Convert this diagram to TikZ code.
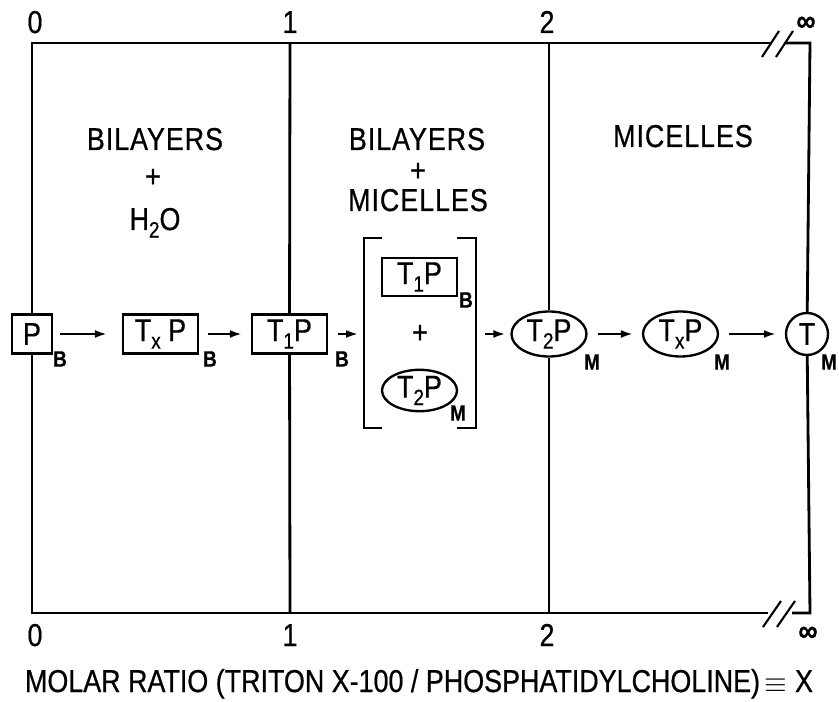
\documentclass[tikz,border=0pt]{standalone}
\usepackage{fontspec}
\setmainfont{Liberation Sans}[FakeStretch=0.85,FakeBold=0.6]
\usetikzlibrary{shapes.geometric,arrows.meta}
\newcommand\sub[1]{\raisebox{-0.45ex}{\fontsize{19}{19}\selectfont #1}}

\begin{document}
\begin{tikzpicture}[x=0.3mm,y=-0.3mm,
    every node/.style={font=\fontsize{27}{30}\selectfont},
    bilayer/.style={draw,line width=2pt,rectangle,inner sep=0pt,minimum height=11.7mm},
    micelle/.style={draw,line width=2pt,ellipse,inner sep=0pt,minimum width=22.5mm,minimum height=13.5mm},
    sublab/.style={font=\fontsize{19}{19}\selectfont\bfseries,inner sep=0pt},
    phase/.style={inner sep=0pt,font=\fontsize{27}{30}\selectfont\addfontfeature{LetterSpace=3}},
    arr/.style={line width=1.8pt,-{Latex[length=3.6mm,width=2.4mm]}},
    frame/.style={line width=2.4pt}]
    \useasboundingbox (0,0) rectangle (839,702);
    % frame corners and breaks
    \coordinate (tl) at (32,43);
    \coordinate (tr) at (810,43);
    \coordinate (bl) at (32,613);
    \coordinate (br) at (810,613);
    \coordinate (ta) at (290,43);
    \coordinate (ba) at (290,613);
    \coordinate (tb) at (549,43);
    \coordinate (bb) at (549,613);
    \coordinate (tbreakL) at (771,43);
    \coordinate (tbreakR) at (786,43);
    \coordinate (bbreakL) at (768,613);
    \coordinate (bbreakR) at (792,613);
    % species
    \node[bilayer,minimum width=12mm] (P) at (32,334) {P};
    \node[bilayer,minimum width=22.5mm] (TxPb) at (160.5,334) {T\sub{x} P};
    \node[bilayer,minimum width=22.5mm] (TiPb) at (289.5,334) {T\sub{1}P};
    \node[bilayer,minimum width=22.5mm,minimum height=11.4mm] (TiPin) at (419.5,277) {T\sub{1}P};
    \node (plus) at (420,334) {+};
    \node[micelle,minimum height=12.3mm] (TiiPin) at (419.5,390.5) {T\sub{2}P};
    \node[micelle] (TiiPm) at (549,334) {T\sub{2}P};
    \node[micelle] (TxPm) at (680.5,334) {T\sub{x}P};
    \node[micelle,circle,minimum size=12.6mm] (T) at (807,334) {T};
    \node[sublab] (Pb) at (60,359) {B};
    \node[sublab] (TxPbl) at (210,359) {B};
    \node[sublab] (TiPbl) at (342,359) {B};
    \node[sublab] (TiPinl) at (466,300) {B};
    \node[sublab] (TiiPinl) at (458,413) {M};
    \node[sublab] (TiiPml) at (592,362) {M};
    \node[sublab] (TxPml) at (722,362) {M};
    \node[sublab] (Tml) at (829,362) {M};
    % bracket
    \coordinate (brL) at (364,334);
    \coordinate (brR) at (476,334);
    \draw[frame] (382,238) -- (364,238) -- (364,428) -- (382,428);
    \draw[frame] (457,238) -- (476,238) -- (476,428) -- (457,428);
    % phases
    \node[phase,anchor=base] (bilI) at (155,150) {BILAYERS};
    \node[phase] (plusI) at (153,178) {+};
    \node[phase,anchor=base] (water) at (155,230) {H\sub{2}O};
    \node[phase,anchor=base] (bilII) at (417,150) {BILAYERS};
    \node[phase] (plusII) at (418,172) {+};
    \node[phase,anchor=base] (micII) at (418,211) {MICELLES};
    \node[phase,anchor=base] (micIII) at (683,147) {MICELLES};
    % axis labels
    \node[anchor=base] (topO) at (35,33) {0};
    \node[anchor=base] (topI) at (290,33) {1};
    \node[anchor=base] (topII) at (547,33) {2};
    \node (topInf) at (806,24) {\textbf{∞}};
    \node[anchor=base] (botO) at (35,646) {0};
    \node[anchor=base] (botI) at (290,646) {1};
    \node[anchor=base] (botII) at (547,646) {2};
    \node (botInf) at (808,634) {\textbf{∞}};
    \node[anchor=base] (title) at (419,692) {MOLAR RATIO (TRITON X-100 / PHOSPHATIDYLCHOLINE)$\,\equiv$ X};
    % frame
    \draw[frame] (tbreakR) -- (tr) -- (T) -- (br) -- (bbreakR);
    \draw[frame] (bbreakL) -- (bl) -- (P) -- (tl) -- (tbreakL);
    \draw[frame] (ta) -- (TiPb) -- (ba);
    \draw[frame] (tb) -- (TiiPm) -- (bb);
    \draw[line width=1.8pt] (762,57) -- (779,31);
    \draw[line width=1.8pt] (776,57) -- (793,31);
    \draw[line width=1.8pt] (763,627) -- (781,601);
    \draw[line width=1.8pt] (777,627) -- (795,601);
    % steps
    \draw[arr,shorten <=2.1mm,shorten >=4.5mm] (P) -- (TxPb);
    \draw[arr,shorten <=2.7mm,shorten >=2.7mm] (TxPb) -- (TiPb);
    \draw[arr,shorten <=3mm,shorten >=1.8mm] (TiPb) -- (brL);
    \draw[arr,shorten <=2.7mm,shorten >=1.5mm] (brR) -- (TiiPm);
    \draw[arr,shorten <=3mm,shorten >=2.7mm] (TiiPm) -- (TxPm);
    \draw[arr,shorten <=3mm,shorten >=2.7mm] (TxPm) -- (T);
\end{tikzpicture}
\end{document}
